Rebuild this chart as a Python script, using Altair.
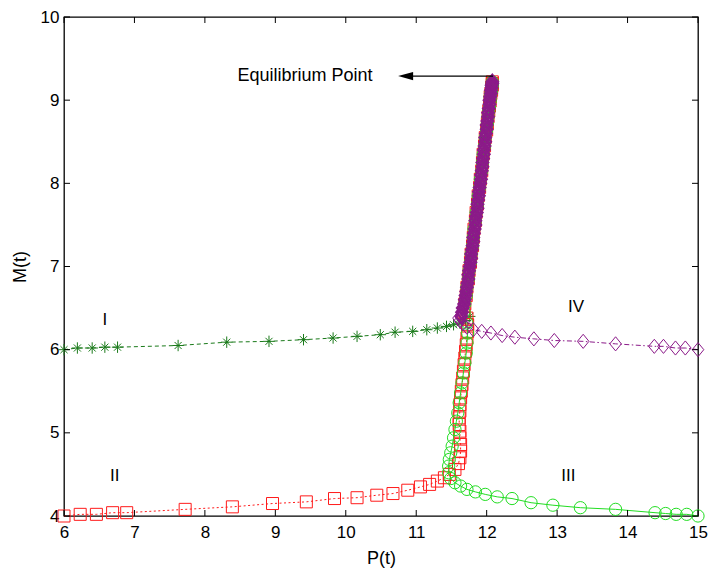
import altair as alt
import pandas as pd

FONT = "Liberation Sans"
W, H = 634, 499

x_ticks = [6, 7, 8, 9, 10, 11, 12, 13, 14, 15]
y_ticks = [4, 5, 6, 7, 8, 9, 10]

# shared approach path toward the equilibrium point (I, II, III)
approach_p = [11.68, 11.69, 11.71, 11.72, 11.74, 11.75, 11.77, 11.78, 11.80, 11.81,
              11.82, 11.84, 11.85, 11.87, 11.88, 11.90, 11.91, 11.93, 11.94, 11.95,
              11.97, 11.98, 12.00, 12.01, 12.02, 12.03, 12.04, 12.05, 12.05, 12.06,
              12.07, 12.07, 12.08, 12.08, 12.08]
approach_m = [6.45, 6.55, 6.65, 6.75, 6.85, 6.95, 7.05, 7.15, 7.25, 7.35,
              7.45, 7.55, 7.65, 7.75, 7.85, 7.95, 8.05, 8.15, 8.25, 8.35,
              8.45, 8.55, 8.64, 8.72, 8.80, 8.87, 8.93, 8.99, 9.04, 9.08,
              9.12, 9.15, 9.18, 9.20, 9.22]

# denser approach of IV (drawn on top, forms the solid purple band)
approach4_p = [11.64, 11.65, 11.66, 11.68, 11.69, 11.70, 11.71, 11.72, 11.73, 11.74,
               11.74, 11.75, 11.76, 11.77, 11.78, 11.78, 11.79, 11.80, 11.81, 11.81,
               11.82, 11.83, 11.84, 11.84, 11.85, 11.86, 11.87, 11.87, 11.88, 11.89,
               11.89, 11.90, 11.91, 11.92, 11.92, 11.93, 11.94, 11.94, 11.95, 11.96,
               11.96, 11.97, 11.98, 11.98, 11.99, 12.00, 12.00, 12.01, 12.02, 12.02,
               12.03, 12.04, 12.04, 12.05, 12.06, 12.06, 12.07, 12.07, 12.08, 12.08]
approach4_m = [6.40, 6.45, 6.50, 6.55, 6.60, 6.65, 6.70, 6.75, 6.80, 6.85,
               6.90, 6.95, 7.00, 7.05, 7.10, 7.15, 7.20, 7.25, 7.30, 7.35,
               7.40, 7.45, 7.50, 7.55, 7.60, 7.65, 7.70, 7.75, 7.80, 7.85,
               7.90, 7.95, 8.00, 8.05, 8.10, 8.15, 8.20, 8.25, 8.30, 8.35,
               8.40, 8.45, 8.50, 8.55, 8.60, 8.65, 8.70, 8.75, 8.80, 8.85,
               8.90, 8.95, 9.00, 9.04, 9.08, 9.12, 9.15, 9.18, 9.20, 9.22]

# I : dark green stars
s1_p = [6.00, 6.19, 6.40, 6.58, 6.76, 7.62, 8.31, 8.91, 9.40, 9.82, 10.16, 10.49,
        10.70, 10.95, 11.15, 11.30, 11.43, 11.53, 11.62, 11.70, 11.76]
s1_m = [6.00, 6.02, 6.02, 6.03, 6.03, 6.05, 6.09, 6.10, 6.12, 6.14, 6.16, 6.18,
        6.21, 6.22, 6.24, 6.26, 6.28, 6.30, 6.32, 6.35, 6.40]

# II : red squares
s2_p = [6.00, 6.23, 6.46, 6.69, 6.89, 7.72, 8.39, 8.96, 9.44, 9.84, 10.16, 10.44,
        10.67, 10.88, 11.06, 11.19, 11.30, 11.40, 11.47, 11.55, 11.60, 11.62, 11.63,
        11.63, 11.62, 11.62, 11.61, 11.61, 11.62, 11.62, 11.63, 11.64, 11.65, 11.66,
        11.67, 11.68, 11.69, 11.70, 11.71, 11.72, 11.73, 11.73, 11.72]
s2_m = [4.00, 4.02, 4.02, 4.04, 4.04, 4.08, 4.11, 4.15, 4.17, 4.21, 4.22, 4.25,
        4.27, 4.31, 4.35, 4.38, 4.42, 4.46, 4.50, 4.56, 4.63, 4.70, 4.78,
        4.86, 4.94, 5.02, 5.10, 5.18, 5.26, 5.34, 5.42, 5.50, 5.58, 5.66,
        5.74, 5.82, 5.90, 5.98, 6.06, 6.14, 6.22, 6.30, 6.38]

# III : light green circles
s3_p = [15.00, 14.84, 14.69, 14.54, 14.39, 13.83, 13.33, 12.94, 12.63, 12.36, 12.15,
        11.98, 11.84, 11.72, 11.63, 11.55, 11.49, 11.46, 11.46, 11.47, 11.49, 11.51,
        11.53, 11.55, 11.57, 11.59, 11.61, 11.63, 11.65, 11.67, 11.69, 11.71, 11.72,
        11.73, 11.72]
s3_m = [4.00, 4.02, 4.02, 4.03, 4.04, 4.08, 4.10, 4.13, 4.16, 4.21, 4.23,
        4.26, 4.29, 4.32, 4.36, 4.40, 4.45, 4.52, 4.60, 4.68, 4.76, 4.84,
        4.94, 5.04, 5.14, 5.24, 5.36, 5.48, 5.60, 5.72, 5.84, 5.96, 6.08,
        6.20, 6.32]

# IV : purple diamonds
s4_p = [15.00, 14.82, 14.68, 14.51, 14.38, 13.83, 13.37, 12.96, 12.67, 12.40, 12.22,
        12.06, 11.93, 11.81, 11.72, 11.66, 11.62, 11.60]
s4_m = [6.00, 6.02, 6.02, 6.04, 6.04, 6.07, 6.10, 6.11, 6.13, 6.15, 6.17,
        6.20, 6.22, 6.24, 6.27, 6.31, 6.35, 6.38]

label_text = ["I", "II", "III", "IV"]
label_p = [6.58, 6.72, 13.16, 13.27]
label_m = [6.36, 4.48, 4.48, 6.51]

note_text = ["Equilibrium Point"]
note_p = [9.42]
note_m = [9.29]
arrow_p = [12.09]
arrow_p2 = [10.90]
arrow_m = [9.29]
head_p = [10.85]

xscale = alt.Scale(domain=[6, 15], nice=False, zero=False)
yscale = alt.Scale(domain=[4, 10], nice=False, zero=False)
xaxis = alt.Axis(values=x_ticks, format="d", labelFlush=False, labelPadding=8,
                 titleY=47, titleBaseline="alphabetic")
yaxis = alt.Axis(values=y_ticks, format="d", labelFlush=False, labelPadding=5,
                 titleX=-44, titleBaseline="middle")


def X():
    return alt.X("p:Q", scale=xscale, axis=xaxis, title="P(t)")


def Y():
    return alt.Y("m:Q", scale=yscale, axis=yaxis, title="M(t)")


def frame(p, m):
    return pd.DataFrame({"p": p, "m": m, "k": list(range(len(p)))})


df1 = frame(s1_p + approach_p, s1_m + approach_m)
df2 = frame(s2_p + approach_p, s2_m + approach_m)
df3 = frame(s3_p + approach_p, s3_m + approach_m)
df4 = frame(s4_p + approach4_p, s4_m + approach4_m)
df4a = frame(s4_p, s4_m)
df4b = frame(approach4_p, approach4_m)

star = "M-1,0L1,0M0,-1L0,1M-0.62,-0.62L0.62,0.62M-0.62,0.62L0.62,-0.62"
tall_diamond = "M-0.82,0L0,-1L0.82,0L0,1Z"
PURPLE = "#8b1a89"


def line_layer(df, color, dash=None):
    lkw = dict(color=color, strokeWidth=1)
    if dash:
        lkw["strokeDash"] = dash
    return alt.Chart(df).mark_line(**lkw).encode(x=X(), y=Y(), order="k:Q")


def point_layer(df, color, shape, size, sw=1.0):
    return alt.Chart(df).mark_point(shape=shape, size=size, filled=False, color=color,
                                    strokeWidth=sw, opacity=1).encode(x=X(), y=Y())


layers = [
    line_layer(df1, "#1a7a1a", [4, 3]), point_layer(df1, "#1a7a1a", star, 130),
    line_layer(df2, "#ff1a1a", [2, 2.5]), point_layer(df2, "#ff1a1a", "square", 144),
    line_layer(df3, "#22dd22"), point_layer(df3, "#22dd22", "circle", 150),
    line_layer(df4, PURPLE, [5, 2.5, 1.5, 2.5]),
    point_layer(df4a, PURPLE, tall_diamond, 200),
    point_layer(df4b, PURPLE, tall_diamond, 190, sw=2.4),
]

# inward ticks on all four sides
dfx = pd.DataFrame({"p": x_ticks})
dfy = pd.DataFrame({"m": y_ticks})
layers.append(alt.Chart(dfx).mark_rule(color="black", strokeWidth=1).encode(
    x=X(), y=alt.value(H), y2=alt.value(H - 6)))
layers.append(alt.Chart(dfx).mark_rule(color="black", strokeWidth=1).encode(
    x=X(), y=alt.value(0), y2=alt.value(6)))
layers.append(alt.Chart(dfy).mark_rule(color="black", strokeWidth=1).encode(
    y=Y(), x=alt.value(0), x2=alt.value(6)))
layers.append(alt.Chart(dfy).mark_rule(color="black", strokeWidth=1).encode(
    y=Y(), x=alt.value(W), x2=alt.value(W - 6)))

# labels
dfl = pd.DataFrame({"p": label_p, "m": label_m, "t": label_text})
layers.append(alt.Chart(dfl).mark_text(font=FONT, fontSize=17, color="black").encode(
    x=X(), y=Y(), text="t:N"))
dfn = pd.DataFrame({"p": note_p, "m": note_m, "t": note_text})
layers.append(alt.Chart(dfn).mark_text(font=FONT, fontSize=18, color="black").encode(
    x=X(), y=Y(), text="t:N"))
dfa = pd.DataFrame({"p": arrow_p, "p2": arrow_p2, "m": arrow_m})
layers.append(alt.Chart(dfa).mark_rule(color="black", strokeWidth=1.2).encode(
    x=X(), x2="p2:Q", y=Y()))
dfh = pd.DataFrame({"p": head_p, "m": arrow_m})
layers.append(alt.Chart(dfh).mark_point(shape="M-1,0L1,-0.55L1,0.55Z", size=225, filled=True,
                                        color="black", opacity=1).encode(x=X(), y=Y()))

chart = alt.layer(*layers).properties(
    width=W, height=H,
    autosize=alt.AutoSizeParams(type="none"),
    padding={"left": 64, "top": 17, "right": 14, "bottom": 55},
    background="white",
).configure_view(stroke="black", strokeWidth=1.3).configure_axis(
    labelFont=FONT, labelFontSize=17, labelColor="black",
    titleFont=FONT, titleFontSize=18, titleFontWeight="normal", titleColor="black",
    ticks=False, domain=False, grid=False,
)

chart.save("out.html", embed_options={"renderer": "svg", "actions": False})
